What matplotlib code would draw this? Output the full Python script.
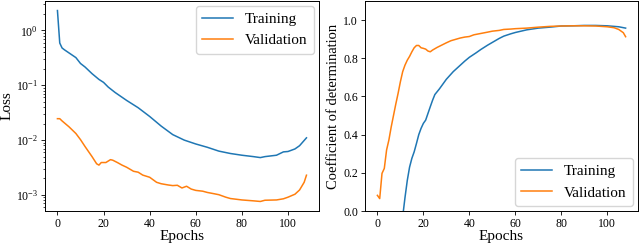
import numpy as np
import matplotlib
matplotlib.use("Agg")
import matplotlib.pyplot as plt

plt.rcParams["font.family"] = ["Liberation Serif", "DejaVu Serif"]
plt.rcParams["mathtext.fontset"] = "stix"

# Loss (log scale)
loss_train_ep = [0, 1, 2, 3, 5, 8, 10, 12, 15, 18, 20, 22, 25, 30, 35, 40, 45, 50,
                 55, 60, 65, 70, 75, 80, 85, 88, 90, 95, 98, 100, 103, 105, 108]
loss_train = [2.31, 0.59, 0.48, 0.445, 0.39, 0.32, 0.25, 0.215, 0.163, 0.128, 0.113,
              0.093, 0.074, 0.053, 0.039, 0.027, 0.018, 0.0126, 0.0100, 0.0085, 0.0074,
              0.0063, 0.0057, 0.0053, 0.0050, 0.0048, 0.0050, 0.0053, 0.0061, 0.0062,
              0.0069, 0.0079, 0.0110]

loss_val_ep = [0, 1, 2, 5, 8, 10, 12, 15, 17, 18, 19, 21, 23, 24, 26, 28, 30, 33, 35,
               37, 40, 43, 45, 48, 50, 52, 54, 56, 58, 60, 63, 65, 68, 70, 73, 75, 80,
               85, 88, 90, 95, 98, 100, 103, 105, 107, 108]
loss_val = [0.0246, 0.0246, 0.0224, 0.0175, 0.0132, 0.0102, 0.0076, 0.0050, 0.0037,
            0.0035, 0.0039, 0.0039, 0.0044, 0.0043, 0.0039, 0.0035, 0.0032, 0.0027,
            0.0026, 0.0023, 0.0021, 0.0017, 0.0016, 0.00152, 0.00148, 0.00150, 0.00134,
            0.00144, 0.00128, 0.00121, 0.00117, 0.00111, 0.00105, 0.00101, 0.00091,
            0.00086, 0.00081, 0.00078, 0.00076, 0.00080, 0.00081, 0.00085, 0.00091,
            0.00103, 0.00123, 0.0017, 0.00229]

# Coefficient of determination
r2_train_ep = [10, 11, 12, 13, 14, 15, 16, 17, 18, 19, 20, 21, 22, 23, 24, 25, 27, 30,
               33, 35, 38, 40, 43, 45, 48, 50, 53, 55, 58, 60, 65, 70, 75, 80, 85, 90,
               95, 100, 105, 108]
r2_train = [-0.2, -0.03, 0.07, 0.16, 0.23, 0.276, 0.31, 0.354, 0.40, 0.433, 0.459,
            0.476, 0.511, 0.546, 0.58, 0.61, 0.64, 0.69, 0.73, 0.752, 0.785, 0.805,
            0.829, 0.846, 0.869, 0.883, 0.904, 0.916, 0.928, 0.935, 0.949, 0.958,
            0.963, 0.969, 0.970, 0.972, 0.972, 0.970, 0.965, 0.958]

r2_val_ep = [0, 1, 2, 3, 4, 5, 6, 7, 8, 9, 10, 11, 12, 13, 14, 15, 16, 17, 18, 19, 20,
             21, 22, 23, 24, 26, 28, 30, 32, 34, 36, 38, 40, 42, 45, 48, 50, 53, 55,
             58, 60, 65, 70, 75, 80, 85, 90, 95, 100, 103, 105, 107, 108]
r2_val = [0.082, 0.065, 0.197, 0.223, 0.32, 0.372, 0.44, 0.50, 0.56, 0.616, 0.677,
          0.73, 0.764, 0.79, 0.81, 0.834, 0.855, 0.867, 0.867, 0.855, 0.852, 0.848,
          0.838, 0.834, 0.843, 0.857, 0.869, 0.881, 0.892, 0.899, 0.906, 0.911, 0.914,
          0.923, 0.930, 0.937, 0.942, 0.946, 0.951, 0.953, 0.955, 0.958, 0.963, 0.967,
          0.969, 0.970, 0.970, 0.969, 0.965, 0.960, 0.951, 0.934, 0.913]

fig = plt.figure(figsize=(6.4, 2.44), dpi=100)
ax1 = fig.add_axes([0.0703, 0.1352, 0.428, 0.8607])
ax2 = fig.add_axes([0.5703, 0.1352, 0.4266, 0.8607])

lw = 1.1
ax1.plot(loss_train_ep, loss_train, color="tab:blue", lw=lw, label="Training")
ax1.plot(loss_val_ep, loss_val, color="tab:orange", lw=lw, label="Validation")
ax1.set_yscale("log")
ax1.set_xlabel("Epochs", fontsize=11, labelpad=0)
ax1.set_ylabel("Loss", fontsize=11)
ax1.yaxis.set_label_coords(-0.115, 0.5)
ax1.legend(loc="upper right", fontsize=11, borderaxespad=0.35)

ax2.plot(r2_train_ep, r2_train, color="tab:blue", lw=lw, label="Training")
ax2.plot(r2_val_ep, r2_val, color="tab:orange", lw=lw, label="Validation")
ax2.set_ylim(0, 1.1)
ax2.set_xlim(-5.4, 113.4)
ax2.set_yticks([0.0, 0.2, 0.4, 0.6, 0.8, 1.0])
ax2.set_xlabel("Epochs", fontsize=11, labelpad=0)
ax2.set_ylabel("Coefficient of determination", fontsize=10.5, labelpad=2)
ax2.legend(loc="lower right", fontsize=11, borderaxespad=0.35)

for ax in (ax1, ax2):
    ax.set_xticks([0, 20, 40, 60, 80, 100])
    ax.tick_params(labelsize=8.5, length=3, width=0.6, pad=2)
    ax.tick_params(which="minor", length=1.6, width=0.5)
    for s in ax.spines.values():
        s.set_linewidth(0.7)

plt.savefig("out.png", dpi=100)
